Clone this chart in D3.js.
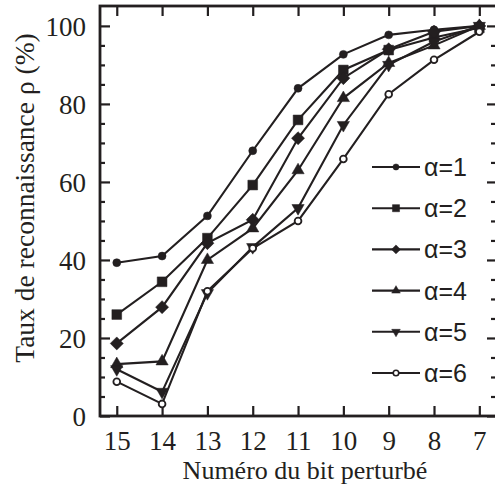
<!DOCTYPE html>
<html>
<head>
<meta charset="utf-8">
<script src="https://cdn.jsdelivr.net/npm/d3@7"></script>
<style>
  body { margin: 0; background: #fff; }
  svg { display: block; }
</style>
</head>
<body>
<div id="chart"></div>
<script>
// data
var bits = [15, 14, 13, 12, 11, 10, 9, 8, 7];
var alpha1 = [39.3, 41, 51.3, 68, 84, 92.7, 97.7, 99, 100];
var alpha2 = [26, 34.4, 45.6, 59.2, 75.9, 88.7, 93.8, 97, 99.5];
var alpha3 = [18.6, 27.9, 44.3, 50.3, 71.2, 86.6, 94, 98.5, 100];
var alpha4 = [13.3, 14, 40, 48.1, 63, 81.5, 90.5, 95, 100];
var alpha5 = [12, 6.2, 31.5, 43.3, 53.3, 74.6, 90, 96, 100];
var alpha6 = [8.8, 3.1, 32, 43, 50, 65.9, 82.5, 91.3, 98.5];
var seriesNames = ["α=1", "α=2", "α=3", "α=4", "α=5", "α=6"];
var yTicks = [0, 20, 40, 60, 80, 100];

var width = 495, height = 495;
var plotL = 100, plotR = 497, plotT = 6, plotB = 416;

var svg = d3.select("#chart").append("svg")
  .attr("width", width)
  .attr("height", height);

var x = d3.scaleLinear().domain([15.37, 6.61]).range([plotL, plotR]);
var y = d3.scaleLinear().domain([0, 105.1]).range([plotB, plotT]);

var serif = "'Liberation Serif', 'Times New Roman', serif";
var sans = "'Liberation Sans', Arial, sans-serif";
var ink = "#231f20";

// minor ticks every 5
var minor = d3.range(0, 105, 5).filter(function (v) { return v % 20 !== 0; });

function styleAxis(g) {
  g.select(".domain").remove();
  g.selectAll("line").attr("stroke", ink).attr("stroke-width", 2.2);
}

// left axis
svg.append("g").attr("transform", "translate(" + plotL + ",0)")
  .call(d3.axisLeft(y).tickValues(yTicks).tickSize(-10).tickPadding(14))
  .call(styleAxis)
  .selectAll("text").attr("font-family", serif).attr("font-size", 27)
  .attr("fill", ink).attr("dy", "0.36em");
svg.append("g").attr("transform", "translate(" + plotL + ",0)")
  .call(d3.axisLeft(y).tickValues(minor).tickSize(-5).tickFormat(""))
  .call(styleAxis);

// right axis
svg.append("g").attr("transform", "translate(" + plotR + ",0)")
  .call(d3.axisRight(y).tickValues(yTicks).tickSize(-10).tickFormat(""))
  .call(styleAxis);
svg.append("g").attr("transform", "translate(" + plotR + ",0)")
  .call(d3.axisRight(y).tickValues(minor).tickSize(-6).tickFormat(""))
  .call(styleAxis);

// bottom axis
svg.append("g").attr("transform", "translate(0," + plotB + ")")
  .call(d3.axisBottom(x).tickValues(bits).tickSize(-10).tickPadding(14))
  .call(styleAxis)
  .selectAll("text").attr("font-family", serif).attr("font-size", 27)
  .attr("fill", ink).attr("dy", "0.74em");

// top axis
svg.append("g").attr("transform", "translate(0," + plotT + ")")
  .call(d3.axisTop(x).tickValues(bits).tickSize(-10).tickFormat(""))
  .call(styleAxis);

// frame
svg.append("rect")
  .attr("x", plotL).attr("y", plotT)
  .attr("width", plotR - plotL).attr("height", plotB - plotT)
  .attr("fill", "none").attr("stroke", ink).attr("stroke-width", 2.8);

// axis titles
svg.append("text")
  .attr("x", 305).attr("y", 479)
  .attr("text-anchor", "middle")
  .attr("font-family", serif).attr("font-size", 26)
  .attr("fill", ink)
  .text("Numéro du bit perturbé");

svg.append("text")
  .attr("transform", "translate(34,198) rotate(-90)")
  .attr("text-anchor", "middle")
  .attr("font-family", serif).attr("font-size", 27.5)
  .attr("fill", ink)
  .text("Taux de reconnaissance ρ (%)");

// markers
var symbols = [
  { type: d3.symbolCircle, size: 50, fill: ink, legendSize: 30 },
  { type: d3.symbolSquare, size: 95, fill: ink, legendSize: 50 },
  { type: d3.symbolSquare, size: 85, fill: ink, legendSize: 40, rot: 45 },
  { type: d3.symbolTriangle, size: 65, fill: ink, legendSize: 32 },
  { type: d3.symbolTriangle, size: 65, fill: ink, legendSize: 32, rot: 180 },
  { type: d3.symbolCircle, size: 36, fill: "#fff", legendSize: 24, open: true }
];

var allSeries = [alpha1, alpha2, alpha3, alpha4, alpha5, alpha6];

var line = d3.line()
  .x(function (d, i) { return x(bits[i]); })
  .y(function (d) { return y(d); });

var plot = svg.append("g");

allSeries.forEach(function (vals, k) {
  var s = symbols[k];
  plot.append("path")
    .attr("d", line(vals))
    .attr("fill", "none")
    .attr("stroke", ink)
    .attr("stroke-width", 2.1);

  plot.selectAll(".m" + k)
    .data(vals)
    .enter().append("path")
    .attr("class", "m" + k)
    .attr("d", d3.symbol().type(s.type).size(s.size))
    .attr("transform", function (d, i) {
      return "translate(" + x(bits[i]) + "," + y(d) + ")" + (s.rot ? " rotate(" + s.rot + ")" : "");
    })
    .attr("fill", s.fill)
    .attr("stroke", ink)
    .attr("stroke-width", s.open ? 1.8 : 0.5);
});

// legend
var legend = svg.append("g");
var legendY = d3.scaleLinear().domain([0, 5]).range([167, 373]);

seriesNames.forEach(function (name, k) {
  var s = symbols[k];
  var ly = legendY(k);
  legend.append("line")
    .attr("x1", 372).attr("x2", 420)
    .attr("y1", ly).attr("y2", ly)
    .attr("stroke", ink).attr("stroke-width", 2.1);
  legend.append("path")
    .attr("d", d3.symbol().type(s.type).size(s.legendSize))
    .attr("transform", "translate(396," + ly + ")" + (s.rot ? " rotate(" + s.rot + ")" : ""))
    .attr("fill", s.fill)
    .attr("stroke", ink)
    .attr("stroke-width", s.open ? 1.6 : 0.5);
  legend.append("text")
    .attr("x", 424).attr("y", ly)
    .attr("dy", "0.36em")
    .attr("font-family", sans).attr("font-size", 25)
    .attr("fill", ink)
    .text(name);
});
</script>
</body>
</html>
